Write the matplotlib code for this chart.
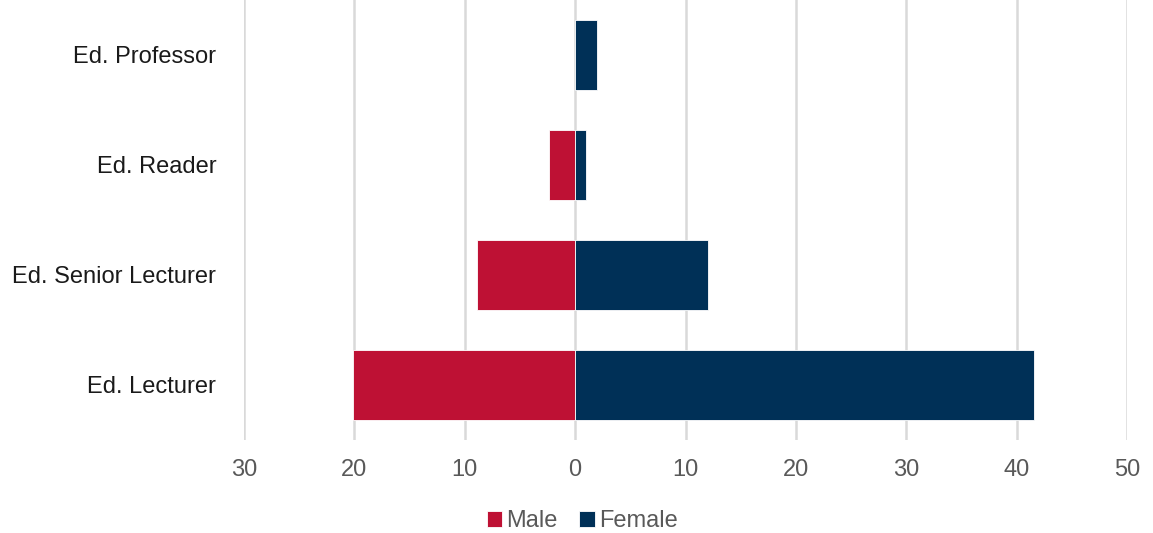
import matplotlib.pyplot as plt
import numpy as np

plt.rcParams['font.family'] = ['Liberation Sans', 'DejaVu Sans']

categories = ['Ed. Professor', 'Ed. Reader', 'Ed. Senior Lecturer', 'Ed. Lecturer']
male = [0, 2.4, 8.9, 20.1]
female = [2, 1, 12, 41.6]
xticks = [-30, -20, -10, 0, 10, 20, 30, 40, 50]

male_color = '#BE1134'
female_color = '#003057'
text_gray = '#595959'

fig = plt.figure(figsize=(11.53, 5.33), dpi=100)
ax = fig.add_axes([0.2116, 0.1745, 0.7659, 0.8255])

y = np.arange(len(categories))
ax.barh(y, [-m for m in male], height=0.64, color=male_color,
        edgecolor='white', linewidth=0.6, label='Male', zorder=3)
ax.barh(y, female, height=0.64, color=female_color,
        edgecolor='white', linewidth=0.6, label='Female', zorder=3)

ax.set_xlim(-30, 50)
ax.set_ylim(len(categories) - 0.5, -0.5)
ax.set_xticks(xticks)
ax.set_xticklabels([str(abs(t)) for t in xticks], fontsize=17, color=text_gray)
ax.set_yticks(y)
ax.set_yticklabels(categories, fontsize=17, color='#1a1a1a')
ax.tick_params(axis='both', length=0)
ax.tick_params(axis='x', pad=14)
ax.tick_params(axis='y', pad=20)
ax.grid(axis='x', color='#D9D9D9', linewidth=1.8, zorder=0)
for s in ax.spines.values():
    s.set_visible(False)

fig.legend(loc='lower center', bbox_to_anchor=(0.505, -0.038), ncol=2, frameon=False,
           fontsize=17, labelcolor=text_gray, handlelength=0.65, handleheight=0.65,
           handletextpad=0.2, columnspacing=0.9)

fig.savefig('out.png', dpi=100)
